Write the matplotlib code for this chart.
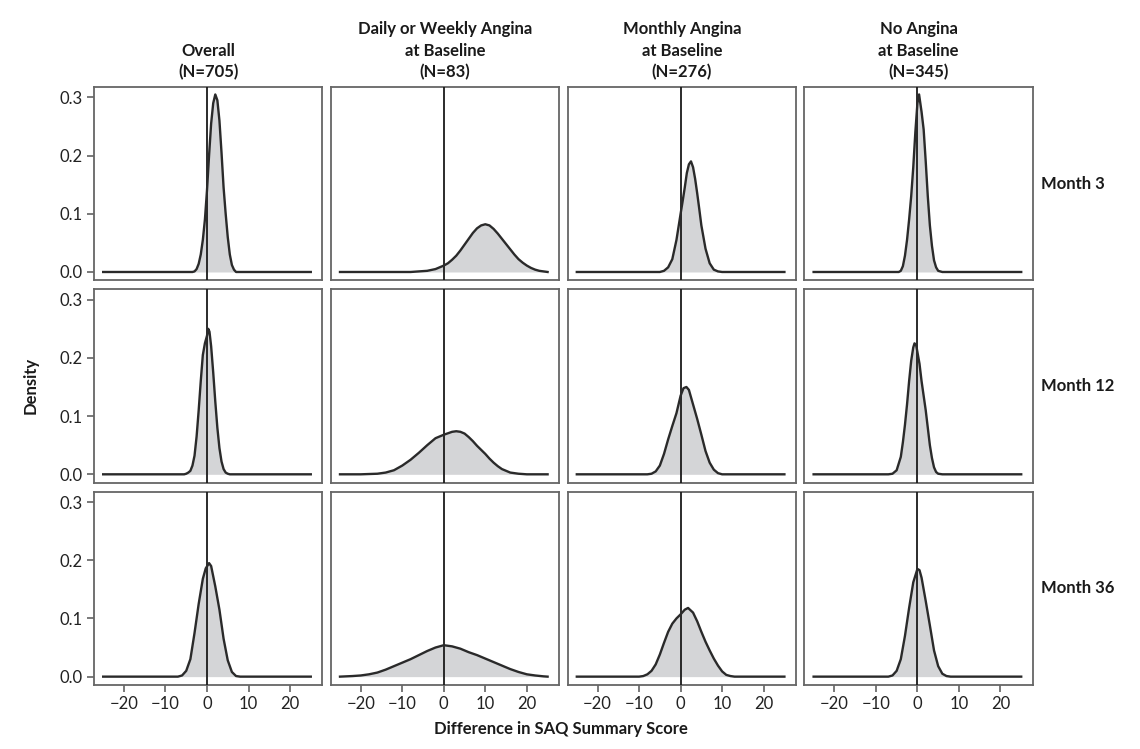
import matplotlib
matplotlib.use("Agg")
import matplotlib.pyplot as plt

plt.rcParams['font.family'] = ['Lato', 'DejaVu Sans']

col_titles = ["Overall\n(N=705)", "Daily or Weekly Angina\nat Baseline\n(N=83)",
              "Monthly Angina\nat Baseline\n(N=276)", "No Angina\nat Baseline\n(N=345)"]
row_titles = ["Month 3", "Month 12", "Month 36"]

# density curves (x = difference in SAQ score)
# --- Month 3 ---
x_all_m3 = [-25, -3.5, -3, -2.5, -2, -1.5, -1, -0.5, 0, 0.5, 1, 1.5, 2, 2.5, 3, 3.5, 4, 4.5, 5, 5.5, 6, 6.5, 7, 25]
d_all_m3 = [0, 0, 0.001, 0.005, 0.014, 0.03, 0.055, 0.09, 0.14, 0.2, 0.255, 0.29, 0.305, 0.295, 0.26, 0.205, 0.145, 0.1, 0.06, 0.03, 0.012, 0.004, 0, 0]
x_dw_m3 = [-25, -8, -6, -4, -2, -1, 0, 1, 2, 3, 4, 5, 6, 7, 8, 9, 10, 11, 12, 13, 14, 15, 16, 17, 18, 19, 20, 21, 22, 23, 24, 25]
d_dw_m3 = [0, 0, 0.001, 0.002, 0.005, 0.008, 0.011, 0.015, 0.021, 0.028, 0.037, 0.047, 0.057, 0.067, 0.075, 0.080, 0.082, 0.080, 0.074, 0.066, 0.057, 0.048, 0.039, 0.030, 0.022, 0.016, 0.011, 0.007, 0.004, 0.002, 0.001, 0]
x_mo_m3 = [-25, -5, -4, -3, -2, -1, 0, 0.5, 1, 1.5, 2, 2.5, 3, 3.5, 4, 4.5, 5, 6, 7, 8, 9, 10, 25]
d_mo_m3 = [0, 0, 0.002, 0.008, 0.022, 0.055, 0.1, 0.122, 0.145, 0.17, 0.185, 0.19, 0.18, 0.16, 0.135, 0.108, 0.08, 0.04, 0.015, 0.004, 0.001, 0, 0]
x_no_m3 = [-25, -4.5, -4, -3.5, -3, -2.5, -2, -1.5, -1, -0.5, 0, 0.4, 1, 1.5, 2, 2.5, 3, 3.5, 4, 4.5, 5, 6, 25]
d_no_m3 = [0, 0, 0.002, 0.01, 0.028, 0.055, 0.09, 0.13, 0.18, 0.24, 0.29, 0.305, 0.275, 0.245, 0.19, 0.13, 0.08, 0.045, 0.02, 0.008, 0.002, 0, 0]

# --- Month 12 ---
x_all_m12 = [-25, -5.5, -5, -4.5, -4, -3.5, -3, -2.5, -2, -1.5, -1, -0.5, 0, 0.3, 0.6, 1, 1.5, 2, 2.5, 3, 3.5, 4, 4.5, 5, 5.5, 25]
d_all_m12 = [0, 0, 0.001, 0.003, 0.006, 0.015, 0.032, 0.065, 0.11, 0.16, 0.205, 0.225, 0.238, 0.25, 0.245, 0.22, 0.175, 0.125, 0.08, 0.045, 0.022, 0.009, 0.003, 0.001, 0, 0]
x_dw_m12 = [-25, -20, -16, -14, -12, -10, -8, -6, -4, -2, 0, 2, 3, 4, 5, 6, 7, 8, 9, 10, 11, 12, 13, 14, 15, 16, 17, 18, 20, 25]
d_dw_m12 = [0, 0, 0.001, 0.003, 0.007, 0.015, 0.025, 0.037, 0.05, 0.062, 0.068, 0.073, 0.074, 0.073, 0.07, 0.064, 0.057, 0.049, 0.042, 0.035, 0.027, 0.02, 0.014, 0.009, 0.006, 0.003, 0.002, 0.001, 0, 0]
x_mo_m12 = [-25, -8, -7, -6, -5, -4, -3, -2, -1, 0, 0.7, 1.4, 2, 3, 4, 5, 6, 7, 8, 9, 10, 25]
d_mo_m12 = [0, 0, 0.001, 0.005, 0.015, 0.035, 0.06, 0.083, 0.105, 0.135, 0.148, 0.15, 0.145, 0.12, 0.095, 0.068, 0.04, 0.02, 0.008, 0.002, 0, 0]
x_no_m12 = [-25, -7, -6, -5, -4, -3.5, -3, -2.5, -2, -1.5, -1, -0.7, -0.3, 0, 0.5, 1, 1.5, 2, 2.5, 3, 3.5, 4, 4.5, 5, 6, 25]
d_no_m12 = [0, 0, 0.001, 0.007, 0.03, 0.055, 0.085, 0.12, 0.16, 0.195, 0.218, 0.225, 0.222, 0.21, 0.19, 0.16, 0.135, 0.11, 0.08, 0.05, 0.028, 0.012, 0.004, 0.001, 0, 0]

# --- Month 36 ---
x_all_m36 = [-25, -7, -6, -5, -4, -3, -2, -1, -0.3, 0.5, 1, 2, 3, 4, 5, 6, 7, 8, 25]
d_all_m36 = [0, 0, 0.002, 0.01, 0.03, 0.075, 0.125, 0.168, 0.186, 0.195, 0.19, 0.155, 0.115, 0.065, 0.028, 0.008, 0.001, 0, 0]
x_dw_m36 = [-25, -22, -20, -18, -16, -14, -12, -10, -8, -6, -4, -2, 0, 2, 4, 6, 8, 10, 12, 14, 16, 18, 20, 22, 24, 25]
d_dw_m36 = [0, 0.001, 0.002, 0.004, 0.007, 0.012, 0.018, 0.024, 0.03, 0.037, 0.044, 0.05, 0.054, 0.052, 0.048, 0.042, 0.037, 0.031, 0.025, 0.019, 0.013, 0.008, 0.004, 0.002, 0.0005, 0]
x_mo_m36 = [-25, -10, -9, -8, -7, -6, -5, -4, -3, -2, -1, 0, 1, 1.8, 3, 4, 5, 6, 7, 8, 9, 10, 11, 12, 13, 25]
d_mo_m36 = [0, 0, 0.001, 0.004, 0.01, 0.021, 0.038, 0.058, 0.077, 0.091, 0.1, 0.107, 0.115, 0.118, 0.11, 0.095, 0.077, 0.06, 0.045, 0.031, 0.019, 0.009, 0.003, 0.001, 0, 0]
x_no_m36 = [-25, -7, -6, -5, -4, -3, -2, -1, 0, 0.5, 1, 2, 3, 4, 5, 6, 7, 8, 25]
d_no_m36 = [0, 0, 0.002, 0.01, 0.03, 0.07, 0.118, 0.162, 0.185, 0.183, 0.17, 0.13, 0.088, 0.045, 0.018, 0.005, 0.001, 0, 0]

curves = [
    [(x_all_m3, d_all_m3), (x_dw_m3, d_dw_m3), (x_mo_m3, d_mo_m3), (x_no_m3, d_no_m3)],
    [(x_all_m12, d_all_m12), (x_dw_m12, d_dw_m12), (x_mo_m12, d_mo_m12), (x_no_m12, d_no_m12)],
    [(x_all_m36, d_all_m36), (x_dw_m36, d_dw_m36), (x_mo_m36, d_mo_m36), (x_no_m36, d_no_m36)],
]

xticks = [-20, -10, 0, 10, 20]
yticks = [0.0, 0.1, 0.2, 0.3]

fig, axes = plt.subplots(3, 4, figsize=(11.4, 7.49), dpi=100)
fig.subplots_adjust(left=0.0825, right=0.906, top=0.884, bottom=0.0855,
                    wspace=0.037, hspace=0.046)

for r in range(3):
    for c in range(4):
        ax = axes[r, c]
        x, d = curves[r][c]
        ax.fill_between(x, d, 0, color='#d4d5d7', lw=0)
        ax.axvline(0, color='#1a1a1a', lw=1.3, zorder=3)
        ax.plot(x, d, color='#2a2a2a', lw=1.7, zorder=4)
        ax.set_xlim(-27.2, 27.8)
        ax.set_ylim(-0.0143, 0.318)
        ax.set_xticks(xticks)
        ax.set_yticks(yticks)
        for s in ax.spines.values():
            s.set_color('#666666')
            s.set_linewidth(1.3)
        ax.tick_params(direction='out', length=5, width=1.1, color='#555555',
                       labelsize=12, labelcolor='#222222', pad=3)
        if c == 0:
            ax.set_yticklabels(['0.0', '0.1', '0.2', '0.3'])
        else:
            ax.tick_params(axis='y', left=False, labelleft=False)
        if r == 2:
            ax.set_xticklabels(['\u221220', '\u221210', '0', '10', '20'])
        else:
            ax.tick_params(axis='x', bottom=False, labelbottom=False)
        if r == 0:
            ax.set_title(col_titles[c], fontsize=12, fontweight='bold',
                         color='#1a1a1a', pad=7, linespacing=1.4)
    # row label on the right
    pos = axes[r, 3].get_position()
    fig.text(0.913, (pos.y0 + pos.y1) / 2, row_titles[r], fontsize=12,
             fontweight='bold', color='#1a1a1a', ha='left', va='center')

fig.text(0.027, 0.485, 'Density', rotation=90, fontsize=12, fontweight='bold',
         color='#1a1a1a', ha='center', va='center')
fig.text(0.492, 0.027, 'Difference in SAQ Summary Score', fontsize=12,
         fontweight='bold', color='#1a1a1a', ha='center', va='center')

fig.savefig('out.png', dpi=100)
